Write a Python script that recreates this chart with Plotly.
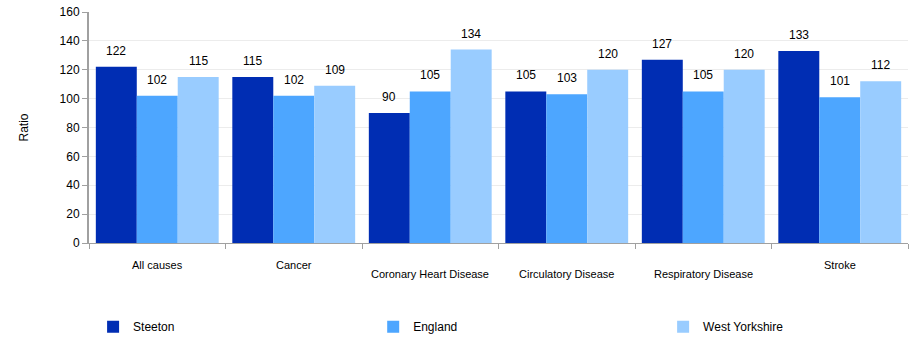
import plotly.graph_objects as go

categories = ["All causes", "Cancer", "Coronary Heart Disease", "Circulatory Disease",
              "Respiratory Disease", "Stroke"]
steeton = [122, 115, 90, 105, 127, 133]
england = [102, 102, 105, 103, 105, 101]
west_yorkshire = [115, 109, 134, 120, 120, 112]
y_ticks = [0, 20, 40, 60, 80, 100, 120, 140, 160]
label_drop = [0, 0, 1, 1, 1, 0]

series = [("Steeton", steeton, "#002db3"),
          ("England", england, "#4da6ff"),
          ("West Yorkshire", west_yorkshire, "#99ccff")]
legend_ids = ["legend", "legend2", "legend3"]
legend_x = [0.005, 0.347, 0.701]
bar_px = 41

fig = go.Figure()
for i, (name, vals, col) in enumerate(series):
    fig.add_trace(go.Bar(
        x=categories, y=vals, name=name, marker=dict(color=col, line=dict(width=0)),
        legend=legend_ids[i],
    ))
    for c, v in zip(categories, vals):
        fig.add_annotation(x=c, y=v, xref="x", yref="y", text=str(v), showarrow=False,
                           xshift=(i - 1) * bar_px, yshift=7, yanchor="bottom",
                           font=dict(size=12, color="#000000", family="Liberation Sans"))

for c, d in zip(categories, label_drop):
    fig.add_annotation(x=c, xref="x", y=0, yref="paper", yshift=-22 - 9 * d,
                       text=c, showarrow=False, yanchor="middle",
                       font=dict(size=11, color="#000000", family="Liberation Sans"))

legend_common = dict(orientation="h", xanchor="left", y=-0.3, yanchor="top",
                     font=dict(size=12, family="Liberation Sans", color="#000000"),
                     bgcolor="rgba(0,0,0,0)")
layout_legends = {}
for lid, lx in zip(legend_ids, legend_x):
    layout_legends[lid] = dict(x=lx, **legend_common)

fig.update_layout(
    width=910, height=338,
    margin=dict(l=89, r=2, t=12, b=95, autoexpand=False),
    paper_bgcolor="white", plot_bgcolor="white",
    barmode="group", bargap=0.1, bargroupgap=0,
    font=dict(family="Liberation Sans", size=12, color="#000000"),
    showlegend=True,
    xaxis=dict(type="category", showticklabels=False, showline=True, linecolor="#a0a0a0",
               linewidth=1, ticks="outside", tickson="boundaries", ticklen=5,
               tickcolor="#a0a0a0", showgrid=False, automargin=False),
    yaxis=dict(range=[0, 160], tickvals=y_ticks, showline=True, linecolor="#a0a0a0",
               linewidth=2, ticks="outside", ticklen=5, tickcolor="#a0a0a0",
               gridcolor="#ececec", zeroline=False, automargin=False,
               tickfont=dict(size=12, color="#000000"),
               title=dict(text="Ratio", font=dict(size=12), standoff=28)),
    **layout_legends,
)

fig.write_html("out.html", config={"displayModeBar": False},
               post_script="document.body.style.margin='0';")
